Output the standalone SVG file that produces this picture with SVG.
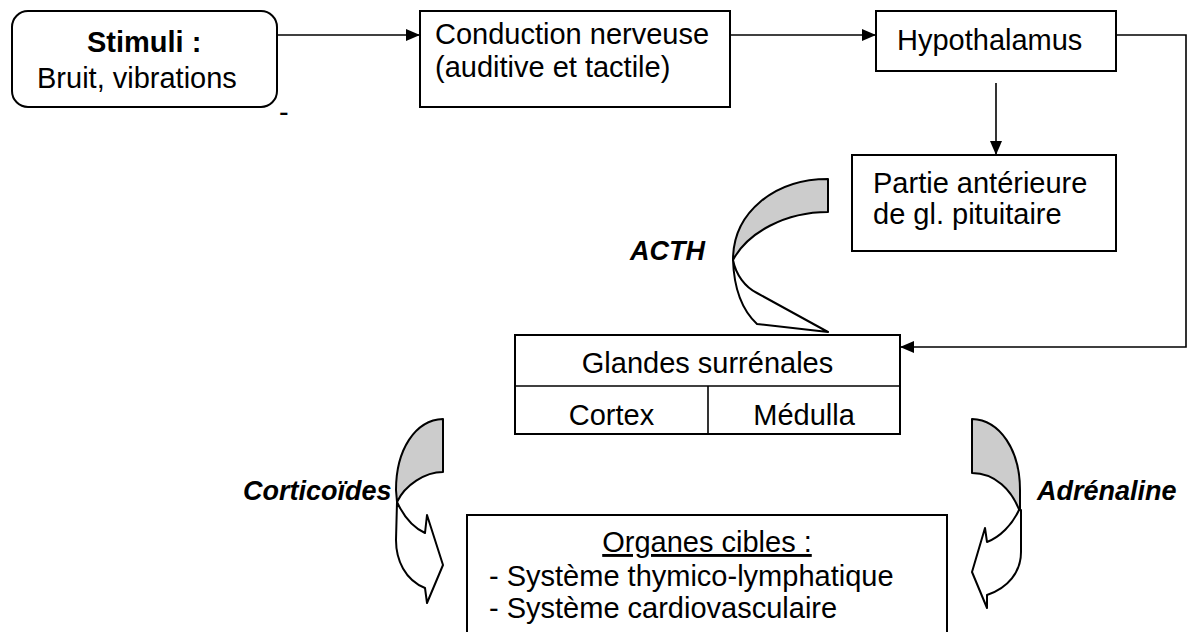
<svg xmlns="http://www.w3.org/2000/svg" width="1188" height="632" viewBox="0 0 1188 632">
<defs>
<marker id="ah" markerWidth="14" markerHeight="12" refX="14" refY="6" orient="auto" markerUnits="userSpaceOnUse">
<path d="M0,0 L14,6 L0,12 Z" fill="#000"/>
</marker>
<style>
.box{fill:#fff;stroke:#000;stroke-width:2}
.ln{fill:none;stroke:#000;stroke-width:1.6}
.t{font-family:"Liberation Sans",Arial,sans-serif;font-size:29px;fill:#000}
.b{font-weight:bold}
.lab{font-family:"Liberation Sans",Arial,sans-serif;font-size:27px;font-weight:bold;font-style:italic;fill:#000}
.gr{fill:#cccccc;stroke:#000;stroke-width:2;stroke-linejoin:round}
.wh{fill:#fff;stroke:#000;stroke-width:2;stroke-linejoin:round}
</style>
</defs>
<g id="connectors">
<line class="ln" x1="277" y1="35" x2="420" y2="35" marker-end="url(#ah)"/>
<line class="ln" x1="730" y1="35" x2="876" y2="35" marker-end="url(#ah)"/>
<line class="ln" x1="996" y1="83" x2="996" y2="155" marker-end="url(#ah)"/>
<polyline class="ln" points="1116,35 1186,35 1186,347 900,347" marker-end="url(#ah)"/>
</g>
<g id="stimuli">
<rect class="box" x="12" y="11" width="265" height="96" rx="16"/>
<text class="t b" x="87" y="52">Stimuli :</text>
<text class="t" x="37" y="88">Bruit, vibrations</text>
</g>
<text class="t" x="279" y="122">-</text>
<g id="conduction">
<rect class="box" x="420" y="11" width="310" height="96"/>
<text class="t" x="435" y="44">Conduction nerveuse</text>
<text class="t" x="435" y="77">(auditive et tactile)</text>
</g>
<g id="hypothalamus">
<rect class="box" x="876" y="11" width="240" height="60"/>
<text class="t" x="897" y="50">Hypothalamus</text>
</g>
<g id="pituitaire">
<rect class="box" x="852" y="155" width="264" height="96"/>
<text class="t" x="873" y="193">Partie antérieure</text>
<text class="t" x="873" y="224">de gl. pituitaire</text>
</g>
<g id="acth">
<path class="gr" d="M828,179 C775,179 733,212 733,260 C748,232 786,212 828,212 Z"/>
<path class="wh" d="M733,260 C736,275 745,287 757,293 L828,332 L757,324 C742,310 734,290 733,260 Z"/>
<text class="lab" x="630" y="260">ACTH</text>
</g>
<g id="glandes">
<rect class="box" x="515" y="335" width="385" height="99"/>
<line class="ln" x1="515" y1="386" x2="900" y2="386" stroke-width="2"/>
<line class="ln" x1="708" y1="386" x2="708" y2="434" stroke-width="2"/>
<text class="t" x="707.5" y="373" text-anchor="middle">Glandes surrénales</text>
<text class="t" x="611.5" y="425" text-anchor="middle">Cortex</text>
<text class="t" x="804" y="425" text-anchor="middle">Médulla</text>
</g>
<g id="corticoides">
<path class="gr" d="M443,419 C415,420 396,450 396,490 L397,502 C405,485 425,472 443,472 Z"/>
<path class="wh" d="M397,502 C403,515 412,527 425,533 L427,515 L443,565 L427,603 L425,588 C405,580 396,560 396,540 Z"/>
<text class="lab" x="243" y="500">Corticoïdes</text>
</g>
<g id="adrenaline">
<path class="gr" d="M972,419 C1000,420 1020,450 1020,490 L1020,512 C1012,490 995,473 972,473 Z"/>
<path class="wh" d="M1019,510 C1012,525 1000,537 987,542 L985,528 L972,572 L987,608 L987,595 C1008,588 1021,572 1021,552 L1021,510 Z"/>
<text class="lab" x="1037" y="500">Adrénaline</text>
</g>
<g id="organes">
<rect class="box" x="467" y="515" width="480" height="130"/>
<text class="t" x="707" y="552" text-anchor="middle" text-decoration="underline">Organes cibles :</text>
<text class="t" x="489" y="586">- Système thymico-lymphatique</text>
<text class="t" x="489" y="618">- Système cardiovasculaire</text>
</g>
</svg>
